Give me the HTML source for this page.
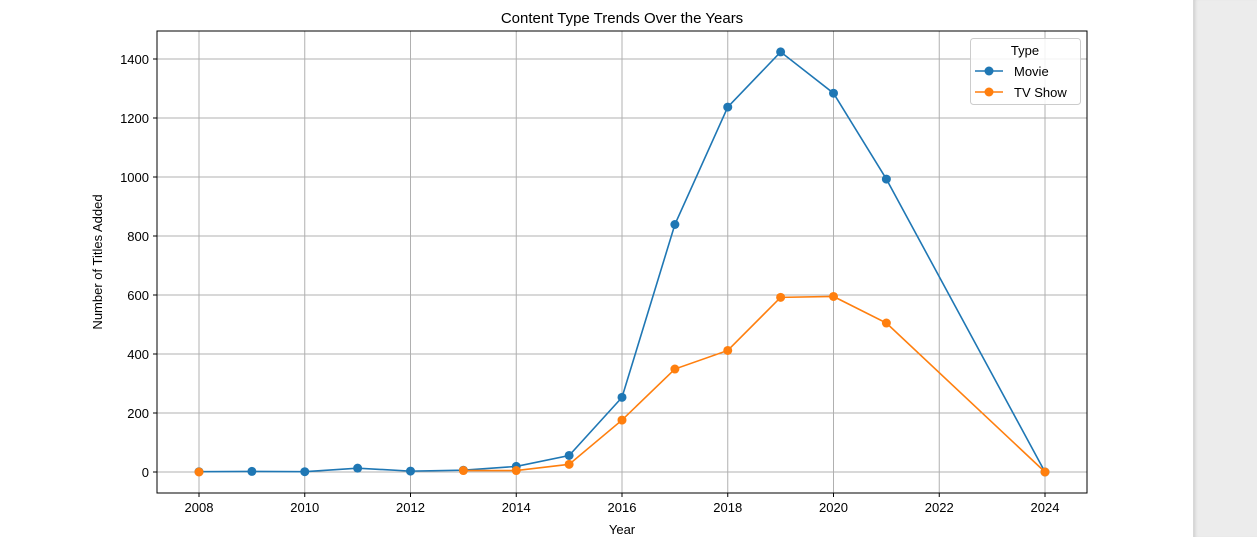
<!DOCTYPE html>
<html><head><meta charset="utf-8"><style>
body{margin:0;background:#fff;width:1257px;height:537px;overflow:hidden;font-family:"Liberation Sans","DejaVu Sans",sans-serif;}
#side{position:absolute;left:1193px;top:0;width:64px;height:537px;background:#ececec;border-left:1px solid #d8d8d8;box-shadow:inset 3px 0 3px -2px #ccc;}
</style></head><body>
<svg id="chart" width="1193" height="537" style="position:absolute;left:0;top:0" font-family="Liberation Sans, DejaVu Sans, sans-serif"></svg>
<div id="side"></div>
<script>
const years = [2008,2009,2010,2011,2012,2013,2014,2015,2016,2017,2018,2019,2020,2021,2024];
const movieValues = [1,2,1,13,3,6,19,56,253,839,1237,1424,1284,993,0];
const tvYears = [2008,2009,2010,2011,2012,2013,2014,2015,2016,2017,2018,2019,2020,2021,2024];
const tvValues = [0,null,null,null,null,5,5,26,176,349,412,592,595,505,0];
const xTicks = [2008,2010,2012,2014,2016,2018,2020,2022,2024];
const yTicks = [0,200,400,600,800,1000,1200,1400];

const NS='http://www.w3.org/2000/svg';
const svg=document.getElementById('chart');
const L=157,R=1087,T=31,B=493;
const x=v=>199+(v-2008)*(1045-199)/16;
const y=v=>472-v*(472-59)/1400;
function mk(tag,attrs,parent){const e=document.createElementNS(NS,tag);for(const k in attrs)e.setAttribute(k,attrs[k]);(parent||svg).appendChild(e);return e;}

const grid=mk('g',{});


xTicks.forEach(t=>{
  const l=mk('line',{x1:x(t),x2:x(t),y1:T,y2:B,stroke:'#b0b0b0','stroke-width':1},grid);
  
  
  const tk=mk('line',{x1:x(t),x2:x(t),y1:B,y2:B+4,stroke:'#000'});
  
  
  const tx=mk('text',{x:x(t),y:B+19,'text-anchor':'middle','font-size':13});
  tx.textContent=t;
  
  
});
yTicks.forEach(t=>{
  const l=mk('line',{x1:L,x2:R,y1:y(t),y2:y(t),stroke:'#b0b0b0','stroke-width':1},grid);
  
  
  const tk=mk('line',{x1:L-4,x2:L,y1:y(t),y2:y(t),stroke:'#000'});
  
  
  const tx=mk('text',{x:L-8,y:y(t)+5,'text-anchor':'end','font-size':13});
  tx.textContent=t;
  
  
});

function series(xs,vs,color,name){
  const g=mk('g',{});
  
  
  let seg=[];
  const flush=()=>{if(seg.length>1)mk('polyline',{points:seg.join(' '),fill:'none',stroke:color,'stroke-width':1.6},g);seg=[];};
  xs.forEach((yr,i)=>{if(vs[i]==null){flush();}else seg.push(x(yr)+','+y(vs[i]));});
  flush();
  xs.forEach((yr,i)=>{
    if(vs[i]==null)return;
    const c=mk('circle',{cx:x(yr),cy:y(vs[i]),r:4.5,fill:color},g);
    
    
  });
}
series(years,movieValues,'#1f77b4','movie-series');
series(tvYears,tvValues,'#ff7f0e','tv-show-series');

const frame=mk('rect',{x:L,y:T,width:R-L,height:B-T,fill:'none',stroke:'#000','stroke-width':1});



const title=mk('text',{x:622,y:23,'text-anchor':'middle','font-size':15});
title.textContent='Content Type Trends Over the Years';


const xl=mk('text',{x:622,y:534,'text-anchor':'middle','font-size':13});
xl.textContent='Year';


const yl=mk('text',{x:0,y:0,'text-anchor':'middle','font-size':13,transform:'translate(102,262) rotate(-90)'});
yl.textContent='Number of Titles Added';



const lg=mk('g',{});


mk('rect',{x:970.5,y:38.5,width:110,height:66,rx:3,fill:'#fff','fill-opacity':0.85,stroke:'#ccc'},lg);
const lt=mk('text',{x:1025,y:55,'text-anchor':'middle','font-size':13},lg);
lt.textContent='Type';
[['Movie','#1f77b4',71,'legend-entry-movie'],['TV Show','#ff7f0e',92,'legend-entry-tv-show']].forEach(([n,c,yy,dn])=>{
  const e=mk('g',{},lg);
  
  
  mk('line',{x1:975,x2:1003,y1:yy,y2:yy,stroke:c,'stroke-width':1.6},e);
  mk('circle',{cx:989,cy:yy,r:4.5,fill:c},e);
  const t=mk('text',{x:1014,y:yy+5,'font-size':13},e);
  t.textContent=n;
});
</script>
</body></html>
